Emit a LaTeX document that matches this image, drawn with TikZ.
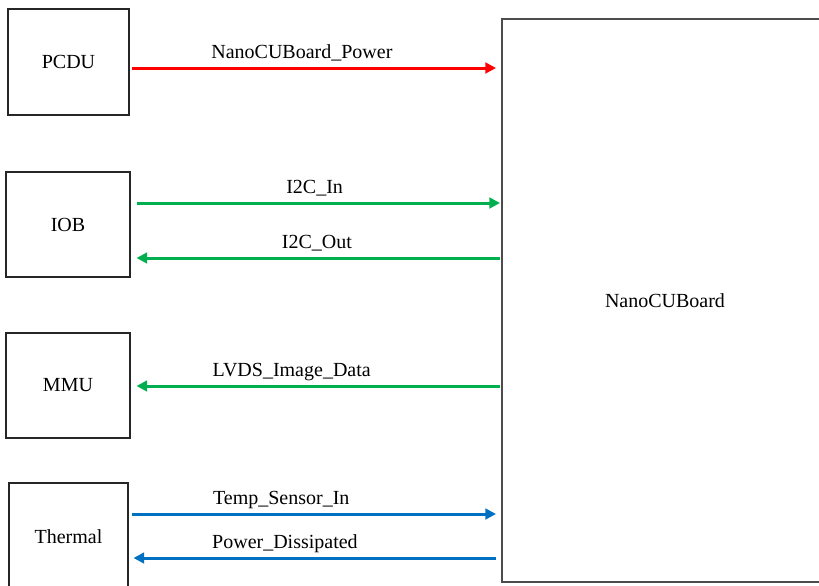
\documentclass[tikz,border=0pt]{standalone}
\usepackage{fontspec}
\setmainfont{Liberation Serif}
\usetikzlibrary{arrows.meta,positioning}
\definecolor{pwrred}{RGB}{255,0,0}
\definecolor{busgreen}{RGB}{0,176,80}
\definecolor{thermblue}{RGB}{0,112,192}
\tikzstyle{block}  = [rectangle, draw=black!85, line width=0.8pt, inner sep=0pt, font=\fontsize{15}{18}\selectfont]
\tikzstyle{arrow}  = [line width=2.25pt, -{Triangle[length=8pt,width=8pt]}]
\tikzstyle{lbl}    = [anchor=base, inner sep=0pt, yshift=7.5pt, text=black, font=\fontsize{15}{18}\selectfont]

\begin{document}
\begin{tikzpicture}[x=0.75pt,y=-0.75pt]
	\useasboundingbox (0,0) rectangle (819,586);
	\clip (0,0) rectangle (819,586);

	\node[block, minimum width=90.75pt, minimum height=79.5pt] (pcdu) at (68.5,62) {PCDU};
	\node[block, minimum width=93pt, minimum height=78.75pt] (iob) at (68,224.5) {IOB};
	\node[block, minimum width=93pt, minimum height=78.75pt] (mmu) at (68,385.5) {MMU};
	\node[block, minimum width=89.25pt, minimum height=80.25pt] (thermal) at (68.5,536.5) {Thermal};
	\node[block, draw=black!70, line width=1.5pt, minimum width=244.5pt, minimum height=422.25pt] (board) at (665,300.5) {NanoCUBoard};

	% power
	\draw[arrow, pwrred, shorten <=1.5pt, shorten >=3.75pt] (pcdu.east |- 0,68) -- (board.west |- 0,68)
		node[lbl, pos=.464] {NanoCUBoard\_Power};

	% I2C bus
	\draw[arrow, busgreen, shorten <=4.5pt, shorten >=0.75pt] (iob.east |- 0,203) -- (board.west |- 0,203)
		node[lbl, pos=.497] {I2C\_In};
	\draw[arrow, busgreen, shorten <=0.75pt, shorten >=4.5pt] (board.west |- 0,258) -- (iob.east |- 0,258)
		node[lbl, pos=.497] {I2C\_Out};

	% image data
	\draw[arrow, busgreen, shorten <=0.75pt, shorten >=4.5pt] (board.west |- 0,386) -- (mmu.east |- 0,386)
		node[lbl, pos=.565] {LVDS\_Image\_Data};

	% thermal
	\draw[arrow, thermblue, shorten <=2.25pt, shorten >=3.75pt] (thermal.east |- 0,514) -- (board.west |- 0,514)
		node[lbl, pos=.41] {Temp\_Sensor\_In};
	\draw[arrow, thermblue, shorten <=3.75pt, shorten >=3.75pt] (board.west |- 0,558) -- (thermal.east |- 0,558)
		node[lbl, pos=.58] {Power\_Dissipated};
\end{tikzpicture}
\end{document}
